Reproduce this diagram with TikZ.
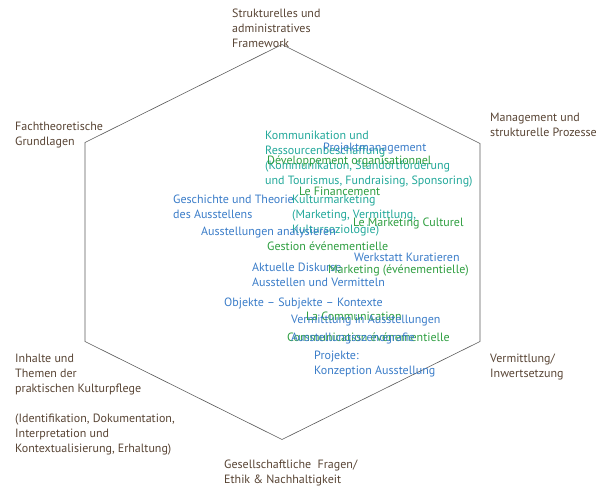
\documentclass[tikz,border=0pt]{standalone}
\usepackage{fontspec}
\setmainfont{PT Sans}
\definecolor{axisbrown}{HTML}{584434}
\definecolor{hexgray}{HTML}{5A5A5A}
\definecolor{topicteal}{HTML}{22A89A}
\definecolor{topicblue}{HTML}{3A7CC8}
\definecolor{topicgreen}{HTML}{2E9E40}
\begin{document}
\begin{tikzpicture}[x=1pt,y=-1pt,
  every node/.style={inner sep=0pt,anchor=north west,yshift=10.5pt,align=left,
    font=\fontsize{12}{15}\selectfont,execute at begin node=\strut},
  axis/.style={text=axisbrown},
  teal/.style={text=topicteal},
  blue/.style={text=topicblue},
  green/.style={text=topicgreen}]
 	\useasboundingbox (0,0) rectangle (603,487);
 	% hexagon corners
 	\coordinate (h-top) at (282,55);
 	\coordinate (h-ur) at (480,154);
 	\coordinate (h-lr) at (480,352);
 	\coordinate (h-bot) at (282,450);
 	\coordinate (h-ll) at (85,352);
 	\coordinate (h-ul) at (85,153);
 	\draw[hexgray,line width=0.6pt]
 	(h-top) -- (h-ur) -- (h-lr) -- (h-bot) -- (h-ll) -- (h-ul) -- cycle;
 	% axis labels
 	\node[axis] (framework) at (232,19) {Strukturelles und\\administratives\\Framework};
 	\node[axis] (grundlagen) at (15,132) {Fachtheoretische\\Grundlagen};
 	\node[axis] (management) at (490,123) {Management und\\strukturelle Prozesse};
 	\node[axis] (inhalte) at (15,364) {Inhalte und\\Themen der\\praktischen Kulturpflege\\[15pt](Identifikation, Dokumentation,\\Interpretation und\\Kontextualisierung, Erhaltung)};
 	\node[axis] (vermittlung) at (490,364) {Vermittlung/\\Inwertsetzung};
 	\node[axis] (ethik) at (224,470) {Gesellschaftliche~ Fragen/\\Ethik \& Nachhaltigkeit};
 	% topics
 	\node[teal] (ressourcen) at (265,141) {Kommunikation und\\Ressourcenbeschaffung\\(Kommunikation, Standortf\"orderung\\und Tourismus, Fundraising, Sponsoring)};
 	\node[blue] (projektmgmt) at (323,151) {Projektmanagement};
 	\node[green] (developpement) at (267,164) {D\'eveloppement organisationnel};
 	\node[green] (financement) at (299,195) {Le Financement};
 	\node[teal] (kulturmarketing) at (292,205) {Kulturmarketing\\(Marketing, Vermittlung,\\Kultursoziologie)};
 	\node[green] (mculturel) at (353,226) {Le Marketing Culturel};
 	\node[blue] (geschichte) at (173,205) {Geschichte und Theorie\\des Ausstellens};
 	\node[blue] (analysieren) at (201,235) {Ausstellungen analysieren};
 	\node[green] (gestion) at (267,250) {Gestion \'ev\'enementielle};
 	\node[blue] (werkstatt) at (354,261) {Werkstatt Kuratieren};
 	\node[blue] (diskurse) at (252,273) {Aktuelle Diskurse\\Ausstellen und Vermitteln};
 	\node[green] (mevent) at (328,273) {Marketing (\'ev\'enementielle)};
 	\node[blue] (objekte) at (224,306) {Objekte -- Subjekte -- Kontexte};
 	\node[green] (communication) at (306,320) {La Communication};
 	\node[blue] (vermausst) at (291,323) {Vermittlung in Ausstellungen};
 	\node[green] (cevent) at (287,341) {Communication \'ev\'enementielle};
 	\node[blue] (szenografie) at (291,341) {Ausstellungsszenografie};
 	\node[blue] (konzeption) at (314,361) {Projekte:\\Konzeption Ausstellung};
 	\end{tikzpicture}
\end{document}
